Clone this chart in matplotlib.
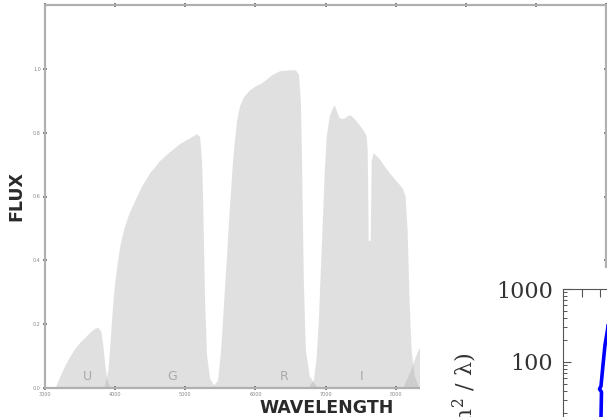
import matplotlib
matplotlib.use("Agg")
import matplotlib.pyplot as plt
from matplotlib.patches import Rectangle

# ---------------- data ----------------
u_wave = [3142, 3213, 3285, 3356, 3427, 3498, 3569, 3640, 3711, 3754, 3797,
          3825, 3854, 3882, 3939]
u_flux = [0, 0.0375, 0.072, 0.10, 0.125, 0.144, 0.159, 0.175, 0.1875, 0.19,
          0.178, 0.134, 0.072, 0.025, 0]

g_wave = [3839, 3896, 3925, 3953, 3982, 4024, 4067, 4124, 4195, 4280, 4380,
          4494, 4636, 4778, 4920, 5063, 5162, 5205, 5233, 5248, 5276, 5304,
          5347, 5432]
g_flux = [0, 0.056, 0.134, 0.228, 0.306, 0.384, 0.447, 0.50, 0.547, 0.588,
          0.634, 0.675, 0.713, 0.741, 0.766, 0.784, 0.797, 0.788, 0.712,
          0.588, 0.275, 0.103, 0.031, 0]

r_wave = [5375, 5461, 5504, 5532, 5561, 5589, 5617, 5646, 5674, 5703, 5731,
          5774, 5831, 5916, 6001, 6087, 6144, 6229, 6343, 6485, 6570, 6613,
          6642, 6656, 6684, 6713, 6770, 6884]
r_flux = [0, 0.025, 0.119, 0.213, 0.322, 0.416, 0.525, 0.619, 0.713, 0.781,
          0.8375, 0.884, 0.9125, 0.934, 0.947, 0.956, 0.966, 0.981, 0.994,
          0.997, 0.997, 0.984, 0.90, 0.744, 0.3375, 0.119, 0.0375, 0]

i_wave = [6741, 6827, 6869, 6898, 6926, 6955, 6983, 7011, 7054, 7097, 7125,
          7154, 7196, 7253, 7310, 7353, 7410, 7481, 7552, 7580, 7595, 7609,
          7637, 7652, 7680, 7765, 7865, 7979, 8092, 8135, 8164, 8192, 8221,
          8263, 8334]
i_flux = [0, 0.025, 0.103, 0.213, 0.369, 0.525, 0.681, 0.791, 0.853, 0.878,
          0.8875, 0.869, 0.847, 0.844, 0.853, 0.856, 0.844, 0.825, 0.803,
          0.791, 0.744, 0.4625, 0.4625, 0.713, 0.7375, 0.719, 0.6875, 0.656,
          0.628, 0.603, 0.494, 0.275, 0.119, 0.041, 0]

z_wave = [8100, 8200, 8300, 8500, 9000, 9500, 10000, 10500, 10900]
z_flux = [0, 0.05, 0.11, 0.20, 0.30, 0.30, 0.25, 0.12, 0]

band_names = ["U", "G", "R", "I"]
band_label_wave = [3600, 4810, 6410, 7520]

x_ticks = [3000, 4000, 5000, 6000, 7000, 8000, 9000, 10000, 11000]
y_ticks = [0.0, 0.2, 0.4, 0.6, 0.8, 1.0]

# inset spectrum (log flux)
spec_wave = [4027, 4054, 4081, 3973, 4054, 4162, 4270, 4405, 4540]
spec_flux = [8.6, 17.7, 38.8, 42.7, 46.9, 91, 171, 274, 515]
inset_yticks = [10, 100, 1000]
inset_ylabels = ["", "100", "1000"]

# ---------------- figure ----------------
W, H = 607, 417
fig = plt.figure(figsize=(W / 100, H / 100), dpi=100)
plt.rcParams["mathtext.fontset"] = "dejavuserif"


def fx(px):
    return px / W


def fy(py):
    return 1 - py / H


ax = fig.add_axes([fx(45), fy(388), fx(606) - fx(45), fy(5) - fy(388)])
for wv, fl in [(u_wave, u_flux), (g_wave, g_flux), (r_wave, r_flux),
               (i_wave, i_flux), (z_wave, z_flux)]:
    ax.fill_between(wv, fl, 0, color="#b0b0b0", alpha=0.38, lw=0)

for name, wl in zip(band_names, band_label_wave):
    ax.text(wl, 0.035, name, color="#a8a8a8", fontsize=9, ha="center",
            va="center")

ax.set_xlim(3000, 11000)
ax.set_ylim(0, 1.2)
ax.set_xticks(x_ticks)
# labels that fall under the overlapping second chart are not visible
ax.set_xticklabels([str(v) if v < 9000 else "" for v in x_ticks])
ax.set_yticks(y_ticks)
ax.set_yticklabels(["%.1f" % v for v in y_ticks])
ax.tick_params(labelsize=3.5, colors="#666", labelcolor="#888", length=3,
               width=1.2, direction="inout", top=True, right=True, pad=1.5)
for s in ax.spines.values():
    s.set_color("#b0b0b0")
    s.set_linewidth(1.6)

fig.text(fx(327), fy(408), "WAVELENGTH", ha="center", va="center",
         fontsize=12.5, fontweight="bold", color="#2a2a2a")
fig.text(fx(16), fy(196), "FLUX", ha="center", va="center", rotation=90,
         fontsize=12.5, fontweight="bold", color="#2a2a2a")

# white box of the overlapping second chart
rect = Rectangle((fx(420), 0), 1 - fx(420), fy(268), transform=fig.transFigure,
                 facecolor="white", edgecolor="none", zorder=1)
fig.add_artist(rect)

axin = fig.add_axes([fx(563), fy(289 + 219), 185 / W, 219 / H], zorder=2)
axin.plot(spec_wave, spec_flux, color="#0000ff", lw=2.6)
axin.set_yscale("log")
axin.set_ylim(1, 1000)
axin.set_xlim(2000, 12000)
axin.set_xticks([3000, 4000, 5000, 6000, 7000, 8000, 9000, 10000, 11000])
axin.set_yticks(inset_yticks)
axin.set_yticklabels(inset_ylabels)
axin.tick_params(which="major", direction="in", length=6, width=0.8,
                 top=True, right=True, colors="#555", labelcolor="#333",
                 labelsize=16, pad=7, labelbottom=False)
axin.tick_params(which="minor", direction="in", length=3, width=0.7,
                 top=True, right=True, colors="#555")
for lab in axin.get_yticklabels():
    lab.set_family("DejaVu Serif")
for s in axin.spines.values():
    s.set_color("#555")
    s.set_linewidth(0.8)

fig.text(fx(466), fy(353), r"Flux (erg cm$^{2}$ / λ)", rotation=90,
         ha="center", va="top", fontsize=16, family="DejaVu Serif",
         color="#333", zorder=3)

fig.savefig("out.png", dpi=100)
